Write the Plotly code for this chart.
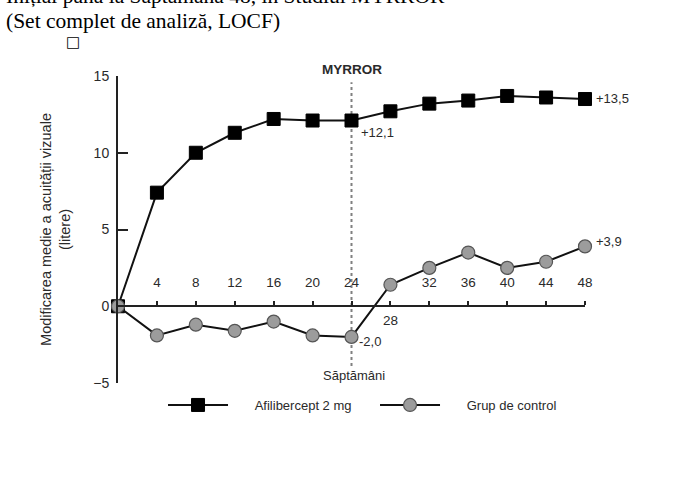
import plotly.graph_objects as go

weeks = [0, 4, 8, 12, 16, 20, 24, 28, 32, 36, 40, 44, 48]
aflibercept = [0, 7.4, 10.0, 11.3, 12.2, 12.1, 12.1, 12.7, 13.2, 13.4, 13.7, 13.6, 13.5]
control = [0, -1.9, -1.2, -1.6, -1.0, -1.9, -2.0, 1.4, 2.5, 3.5, 2.5, 2.9, 3.9]
x_ticks = [4, 8, 12, 16, 20, 24, 28, 32, 36, 40, 44, 48]
x_ticktext = ["4", "8", "12", "16", "20", "24", "", "32", "36", "40", "44", "48"]
y_ticks = [-5, 0, 5, 10, 15]
series_names = ["Afilibercept 2 mg", "Grup de control"]
switch_week = 24

FONT = "Liberation Sans, Arial, sans-serif"
SERIF = "Liberation Serif, Times New Roman, serif"
TXT = "#2a2a2a"
GAP = "&nbsp;" * 6

fig = go.Figure()
fig.add_trace(go.Scatter(
    x=weeks, y=aflibercept, mode="lines+markers", name=GAP + series_names[0],
    line=dict(color="#111111", width=2),
    marker=dict(symbol="square", size=13, color="#000000",
                line=dict(color="#000000", width=1)),
    cliponaxis=False))
fig.add_trace(go.Scatter(
    x=weeks, y=control, mode="lines+markers", name=GAP + series_names[1],
    line=dict(color="#111111", width=2),
    marker=dict(symbol="circle", size=13, color="#9c9c9c",
                line=dict(color="#555555", width=1.2)),
    cliponaxis=False))

fig.add_shape(type="line", x0=switch_week, x1=switch_week, y0=-3.9, y1=14.6,
              xref="x", yref="y", line=dict(color="#808080", width=2, dash="dot"),
              layer="below")

ann = []
ann.append(dict(x=switch_week, y=15, yshift=7, text="<b>MYRROR</b>", showarrow=False,
                font=dict(family=FONT, size=13.5, color=TXT), xanchor="center", yanchor="middle"))
ann.append(dict(x=weeks[6], y=aflibercept[6], text="+12,1", showarrow=False, xanchor="left",
                yanchor="middle", xshift=7, yshift=-12, font=dict(family=FONT, size=13, color=TXT)))
ann.append(dict(x=weeks[-1], y=aflibercept[-1], text="+13,5", showarrow=False, xanchor="left",
                yanchor="middle", xshift=9, yshift=1, font=dict(family=FONT, size=13, color=TXT)))
ann.append(dict(x=weeks[-1], y=control[-1], text="+3,9", showarrow=False, xanchor="left",
                yanchor="middle", xshift=9, yshift=5, font=dict(family=FONT, size=13, color=TXT)))
ann.append(dict(x=weeks[6], y=control[6], text="-2,0", showarrow=False, xanchor="left",
                yanchor="middle", xshift=5, yshift=-5, font=dict(family=FONT, size=13, color=TXT)))
ann.append(dict(x=28, y=0, text="28", showarrow=False, xanchor="center", yanchor="middle",
                yshift=-14, font=dict(family=FONT, size=13.5, color=TXT)))
ann.append(dict(x=switch_week, y=-4.5, text="Săptămâni", showarrow=False, xanchor="center",
                yanchor="middle", xshift=2, font=dict(family=FONT, size=13, color=TXT)))
# header text
ann.append(dict(xref="paper", yref="paper", x=-0.2441, y=1.259, xanchor="left", yanchor="middle",
                text="Inițial până la Săptămâna 48, în Studiul MYRROR", showarrow=False,
                font=dict(family=SERIF, size=21.5, color="#000000")))
ann.append(dict(xref="paper", yref="paper", x=-0.2441, y=1.179, xanchor="left", yanchor="middle",
                text="(Set complet de analiză, LOCF)", showarrow=False,
                font=dict(family=SERIF, size=21.5, color="#000000")))
ann.append(dict(xref="paper", yref="paper", x=-0.0964, y=1.1107, xanchor="center", yanchor="middle",
                text="□", showarrow=False,
                font=dict(family="DejaVu Sans", size=15, color="#000000")))

fig.update_layout(
    width=694, height=482,
    margin=dict(l=118, r=109, t=76, b=99, autoexpand=False),
    paper_bgcolor="white", plot_bgcolor="white",
    showlegend=True,
    legend=dict(orientation="h", x=0.0964, y=-0.0717, xanchor="left", yanchor="middle",
                itemwidth=60, entrywidth=137, entrywidthmode="pixels",
                font=dict(family=FONT, size=13, color=TXT), bgcolor="rgba(0,0,0,0)"),
    annotations=ann,
    xaxis=dict(range=[0, 48], tickvals=x_ticks, ticktext=x_ticktext, side="top",
               anchor="free", position=0.25, ticks="outside", ticklen=4, tickwidth=1.5,
               tickcolor="#222", showline=True, linewidth=2, linecolor="#222",
               showgrid=False, zeroline=False, ticklabelstandoff=9,
               tickfont=dict(family=FONT, size=13.5, color=TXT)),
    yaxis=dict(range=[-5, 15], tickvals=y_ticks, ticks="inside", ticklen=10, tickwidth=2,
               tickcolor="#222", showline=True, linewidth=2, linecolor="#222",
               showgrid=False, zeroline=False, ticklabelstandoff=4,
               tickfont=dict(family=FONT, size=14, color=TXT),
               title=dict(text="Modificarea medie a acuității vizuale<br>(litere)",
                          font=dict(family=FONT, size=14.5, color=TXT), standoff=19)),
)

fig.write_html("out.html")
